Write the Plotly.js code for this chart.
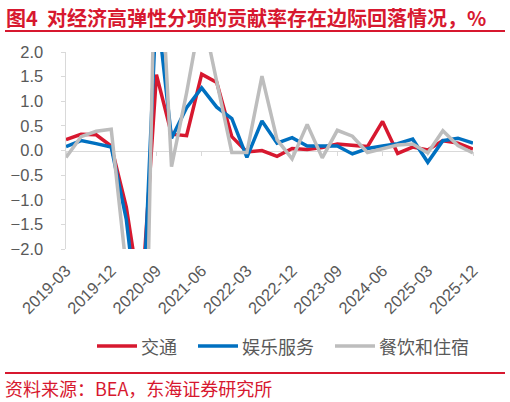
<!DOCTYPE html>
<html>
<head>
<meta charset="utf-8">
<script src="https://cdn.plot.ly/plotly-3.0.1.min.js"></script>
<style>
html,body{margin:0;padding:0;background:#fff;}
#chart{width:510px;height:402px;}
</style>
</head>
<body>
<div id="chart"></div>
<script>
var quarters = ["2019-03","2019-06","2019-09","2019-12","2020-03","2020-06","2020-09","2020-12",
  "2021-03","2021-06","2021-09","2021-12","2022-03","2022-06","2022-09","2022-12",
  "2023-03","2023-06","2023-09","2023-12","2024-03","2024-06","2024-09","2024-12",
  "2025-03","2025-06","2025-09","2025-12"];
var transport = [0.22,0.33,0.32,0.09,-1.15,-3.1,1.54,0.33,0.30,1.55,1.38,0.28,-0.03,0.00,-0.12,0.04,
  0.02,0.06,0.13,0.11,0.08,0.59,-0.06,0.07,0.01,0.20,0.15,0.03];
var recreation = [0.08,0.20,0.14,0.07,-1.4,-4.0,3.0,0.25,0.87,1.27,0.88,0.65,-0.14,0.60,0.15,0.26,
  0.09,0.09,0.09,-0.07,0.04,0.09,0.14,0.23,-0.24,0.20,0.25,0.15];
var foodAccom = [-0.14,0.28,0.39,0.43,-2.4,-9.0,5.5,-0.33,1.17,2.85,1.40,-0.04,-0.04,1.51,0.22,-0.17,
  0.53,-0.15,0.41,0.29,-0.04,0.03,0.11,0.13,-0.05,0.40,0.10,-0.05];
var seriesNames = ["交通","娱乐服务","餐饮和住宿"];
var tickLabels = ["2019-03","2019-12","2020-09","2021-06","2022-03","2022-12","2023-09","2024-06","2025-03","2025-12"];
var titleText = "图4  对经济高弹性分项的贡献率存在边际回落情况，%";
var sourceText = "资料来源：BEA，东海证券研究所";

var RED = "#D7182F", BLUE = "#0070C0", GRAY = "#BDBDBD", TXT = "#595959", AX = "#D9D9D9";
var COLORS = [RED, BLUE, GRAY];
var FONT = "Liberation Sans, Arial, Noto Sans CJK SC, sans-serif";
var CJK = "Noto Sans CJK SC, sans-serif";

var zeroTicks = [];
for (var k = 0; k < quarters.length; k += 3) zeroTicks.push(k);

var seriesData = [transport, recreation, foodAccom];
var traces = seriesData.map(function (vals, i) {
  return {x: quarters, y: vals, name: seriesNames[i], type: "scatter", mode: "lines",
    line: {color: COLORS[i], width: 3.5}, showlegend: false};
});
traces.push({x: [], y: [], xaxis: "x2", showlegend: false, hoverinfo: "skip", type: "scatter"});

// plot area: x 66..473, y 52..249
var L = 66, R = 473, T = 52, B = 249;
function px(x){ return (x - L) / (R - L); }
function py(y){ return (B - y) / (B - T); }

// legend (manual, to match sample length and spacing)
var legendStarts = [97, 198, 335];
var legendY = 346;
var shapes = [
  {type: "line", xref: "paper", yref: "paper", x0: px(5), x1: px(505), y0: py(31), y1: py(31), line: {color: RED, width: 2}},
  {type: "line", xref: "paper", yref: "paper", x0: px(5), x1: px(505), y0: py(373), y1: py(373), line: {color: RED, width: 2}}
];
var annotations = [
  {text: "<b>" + titleText + "</b>", xref: "paper", yref: "paper", x: px(4), y: py(17), xanchor: "left", yanchor: "middle",
    showarrow: false, font: {family: CJK, size: 20, color: RED}},
  {text: sourceText, xref: "paper", yref: "paper", x: px(3), y: py(388), xanchor: "left", yanchor: "middle",
    showarrow: false, font: {family: CJK, size: 18, color: RED}}
];
seriesNames.forEach(function (nm, i) {
  var s = legendStarts[i];
  shapes.push({type: "line", xref: "paper", yref: "paper", x0: px(s), x1: px(s + 40), y0: py(legendY), y1: py(legendY),
    line: {color: COLORS[i], width: 3.5}});
  annotations.push({text: nm, xref: "paper", yref: "paper", x: px(s + 42), y: py(legendY), xanchor: "left", yanchor: "middle",
    showarrow: false, font: {family: CJK, size: 18, color: TXT}});
});

var layout = {
  width: 510, height: 402,
  margin: {l: L, r: 510 - R, t: T, b: 402 - B, pad: 0},
  paper_bgcolor: "#fff", plot_bgcolor: "#fff",
  font: {family: FONT, color: TXT, size: 16},
  showlegend: false,
  xaxis: {type: "category", range: [0, quarters.length - 1], tickmode: "array",
    tickvals: tickLabels, ticktext: tickLabels, tickangle: -45, showline: false, ticks: "",
    showgrid: false, zeroline: false, tickfont: {family: FONT, size: 16.5, color: TXT}, ticklabelstandoff: 8},
  xaxis2: {overlaying: "x", anchor: "free", position: 0.5, type: "linear", range: [0, quarters.length - 1],
    tickmode: "array", tickvals: zeroTicks, showticklabels: false, ticks: "outside", ticklen: 4,
    tickcolor: AX, showline: true, linecolor: AX, linewidth: 1.5, showgrid: false, zeroline: false,
    layer: "below traces"},
  yaxis: {range: [-2, 2], dtick: 0.5, tickformat: ".1f", showline: true, linecolor: AX, linewidth: 1.5,
    ticks: "outside", ticklen: 4, tickcolor: AX, showgrid: false, zeroline: false,
    tickfont: {family: FONT, size: 16.5, color: TXT}, ticklabelstandoff: 14},
  shapes: shapes,
  annotations: annotations
};

Plotly.newPlot("chart", traces, layout, {displayModeBar: false, staticPlot: true});
</script>
</body>
</html>
